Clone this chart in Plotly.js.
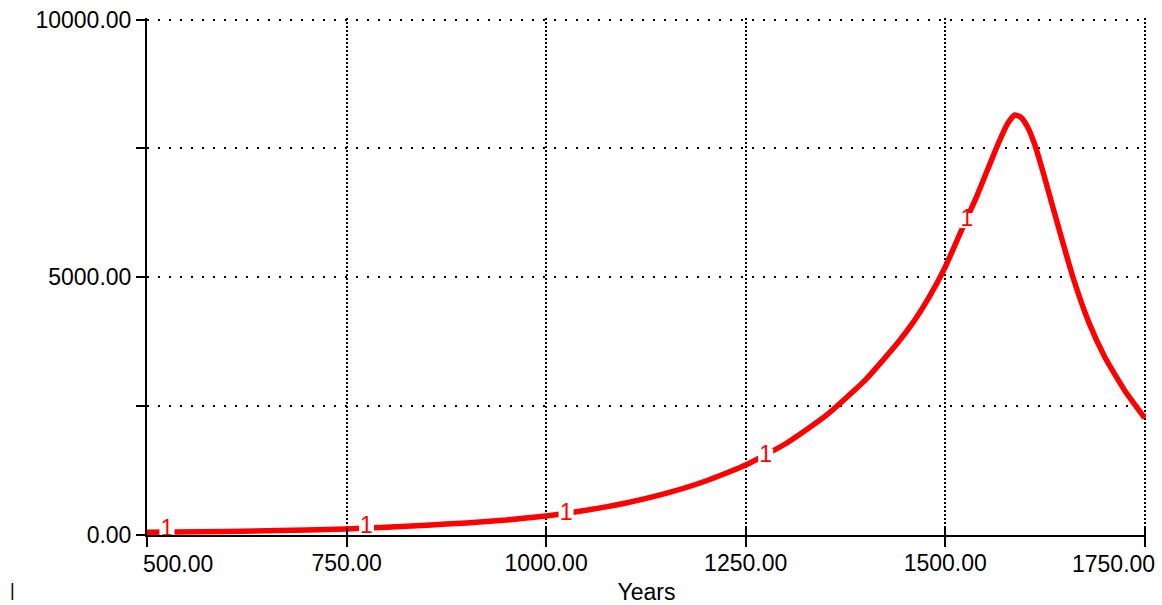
<!DOCTYPE html>
<html>
<head>
<meta charset="utf-8">
<script src="https://cdn.plot.ly/plotly-3.0.1.min.js"></script>
<style>html,body{margin:0;padding:0;background:#fff;}#chart{width:1162px;height:605px;}</style>
</head>
<body>
<div id="chart"></div>
<script>
// Series data (Years vs value)
var years = [500, 600, 700, 750, 800, 850, 900, 950, 1000, 1050, 1100, 1150, 1200, 1250, 1300, 1350, 1400, 1440, 1460, 1480, 1500, 1520, 1540, 1556, 1568, 1578, 1587, 1595, 1603, 1612, 1622, 1635, 1660, 1680, 1700, 1725, 1750];
var values = [55, 70, 95, 118, 150, 190, 235, 290, 370, 480, 622, 807, 1047, 1358, 1770, 2310, 3010, 3720, 4130, 4620, 5200, 5900, 6590, 7200, 7650, 7980, 8150, 8100, 7920, 7580, 7070, 6350, 5000, 4120, 3450, 2800, 2270];

// Series "1" label markers
var labelYears = [525, 775, 1025, 1275, 1527];
var labelValues = [100, 155, 407, 1530, 6100];
var labelText = ["1", "1", "1", "1", "1"];

// Tick labels
var xTicks = [500, 750, 1000, 1250, 1500, 1750];
var xTickText = ["500.00", "750.00", "1000.00", "1250.00", "1500.00", "1750.00"];
var yTicks = [0, 2500, 5000, 7500, 10000];
var yTickText = ["0.00", "", "5000.00", "", "10000.00"];

var FONT = "Liberation Sans, Arial, sans-serif";

// middle tick labels via axis; end labels (shifted to stay inside) via annotations
var axisTickText = xTickText.map(function (t, i) { return (i === 0 || i === xTickText.length - 1) ? "" : t; });

var traces = [
  {
    x: years, y: values, type: "scatter", mode: "lines",
    line: {color: "#ff0000", width: 5.5, shape: "spline", smoothing: 0.5},
    hoverinfo: "skip"
  },
  {
    x: labelYears, y: labelValues, type: "scatter", mode: "markers+text",
    text: labelText, textposition: "middle center",
    textfont: {family: FONT, size: 23, color: "#ff0000"},
    marker: {symbol: "square", size: 15, color: "#ffffff", line: {width: 0}},
    cliponaxis: false, hoverinfo: "skip"
  },
  {
    x: [], y: [], xaxis: "x2", type: "scatter", mode: "markers", hoverinfo: "skip"
  }
];

var tickFont = {family: FONT, size: 23, color: "#000"};

var layout = {
  width: 1162, height: 605,
  margin: {l: 147, r: 16, t: 18, b: 70},
  paper_bgcolor: "#ffffff", plot_bgcolor: "#ffffff",
  showlegend: false,
  font: {family: FONT, size: 23, color: "#000000"},
  xaxis: {
    range: [500, 1751.5], tickmode: "array", tickvals: xTicks, ticktext: axisTickText,
    ticks: "outside", ticklen: 10, tickwidth: 2, tickcolor: "#000", ticklabelstandoff: -4,
    showline: true, linecolor: "#000", linewidth: 2,
    showgrid: true, gridcolor: "#000", gridwidth: 2, griddash: "2px,2px",
    zeroline: false, tickfont: tickFont,
    title: {text: "Years", font: tickFont, standoff: 10},
    automargin: false
  },
  xaxis2: {
    overlaying: "x", side: "bottom", range: [500, 1751.5],
    tickmode: "array", tickvals: xTicks, ticks: "inside", ticklen: 7, tickwidth: 2, tickcolor: "#000",
    showticklabels: false, showgrid: false, showline: false, zeroline: false
  },
  yaxis: {
    range: [0, 10030], tickmode: "array", tickvals: yTicks, ticktext: yTickText,
    ticks: "outside", ticklen: 9, tickwidth: 2, tickcolor: "#000",
    showline: true, linecolor: "#000", linewidth: 2,
    showgrid: true, gridcolor: "#000", gridwidth: 2, griddash: "2px,9px",
    zeroline: false, tickfont: tickFont,
    automargin: false
  },
  annotations: [
    {xref: "x", yref: "paper", x: xTicks[0], y: 0, xanchor: "left", yanchor: "top", xshift: -6, yshift: -14,
     text: xTickText[0], showarrow: false, font: tickFont},
    {xref: "x", yref: "paper", x: xTicks[xTicks.length - 1], y: 0, xanchor: "right", yanchor: "top", xshift: 12, yshift: -14,
     text: xTickText[xTickText.length - 1], showarrow: false, font: tickFont},
    {xref: "paper", yref: "paper", x: -0.139, y: -0.107, xanchor: "left", yanchor: "middle",
     text: "|", showarrow: false, font: {family: FONT, size: 18, color: "#000"}}
  ]
};

Plotly.newPlot("chart", traces, layout, {staticPlot: true, displayModeBar: false});
</script>
</body>
</html>
